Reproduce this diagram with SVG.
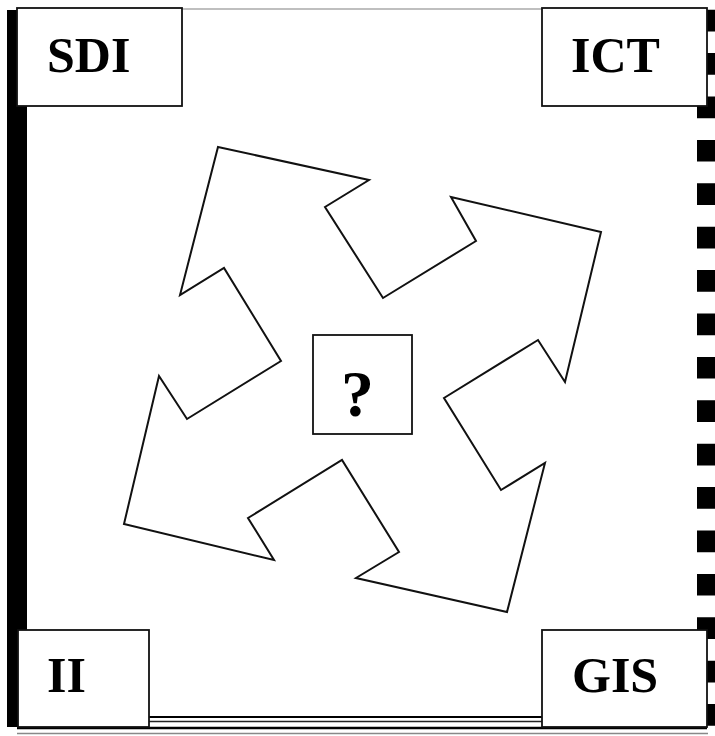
<svg xmlns="http://www.w3.org/2000/svg" width="715" height="736" viewBox="0 0 715 736">
  <style>
    .box { fill: #ffffff; stroke: #111111; stroke-width: 1.8; }
    .label { font-family: "Liberation Serif", "Times New Roman", serif; font-weight: bold; font-size: 50px; fill: #000000; }
    .q { font-size: 66px; }
    .arrow { fill: #ffffff; stroke: #111111; stroke-width: 2; stroke-linejoin: miter; }
  </style>
  <rect width="715" height="736" fill="#ffffff"/>
  <g id="frame">
    <rect x="7" y="10" width="20" height="717" fill="#000000"/>
    <line x1="182" y1="9" x2="542" y2="9" stroke="#aaaaaa" stroke-width="1.5"/>
    <line x1="706" y1="9.7" x2="706" y2="727" stroke="#000000" stroke-width="18" stroke-dasharray="21.7 21.7"/>
    <line x1="149" y1="717" x2="542" y2="717" stroke="#000000" stroke-width="2"/>
    <line x1="149" y1="721.5" x2="542" y2="721.5" stroke="#222222" stroke-width="1.5"/>
    <line x1="17" y1="728" x2="707" y2="728" stroke="#000000" stroke-width="2.4"/>
    <line x1="17" y1="733.5" x2="708" y2="733.5" stroke="#888888" stroke-width="1.5"/>
  </g>
  <g id="connectors">
    <polygon class="arrow" points="218,147 369,180 325,207 383,298 476,241 451,197 601,232 565,382 538,340 444,398 501,490 545,463 507,612 356,578 399,552 342,460 248,518 274,560 124,524 159,376 187,419 281,361 224,268 180,295"/>
  </g>
  <g id="node-sdi">
    <rect class="box" x="17" y="8" width="165" height="98"/>
    <text class="label" x="47" y="72">SDI</text>
  </g>
  <g id="node-ict">
    <rect class="box" x="542" y="8" width="165" height="98"/>
    <text class="label" x="571" y="72">ICT</text>
  </g>
  <g id="node-ii">
    <rect class="box" x="18" y="630" width="131" height="97"/>
    <text class="label" x="47" y="692">II</text>
  </g>
  <g id="node-gis">
    <rect class="box" x="542" y="630" width="165" height="97"/>
    <text class="label" x="572" y="692">GIS</text>
  </g>
  <g id="node-center">
    <rect class="box" x="313" y="335" width="99" height="99"/>
    <text class="label q" x="357.5" y="416" text-anchor="middle">?</text>
  </g>
</svg>
